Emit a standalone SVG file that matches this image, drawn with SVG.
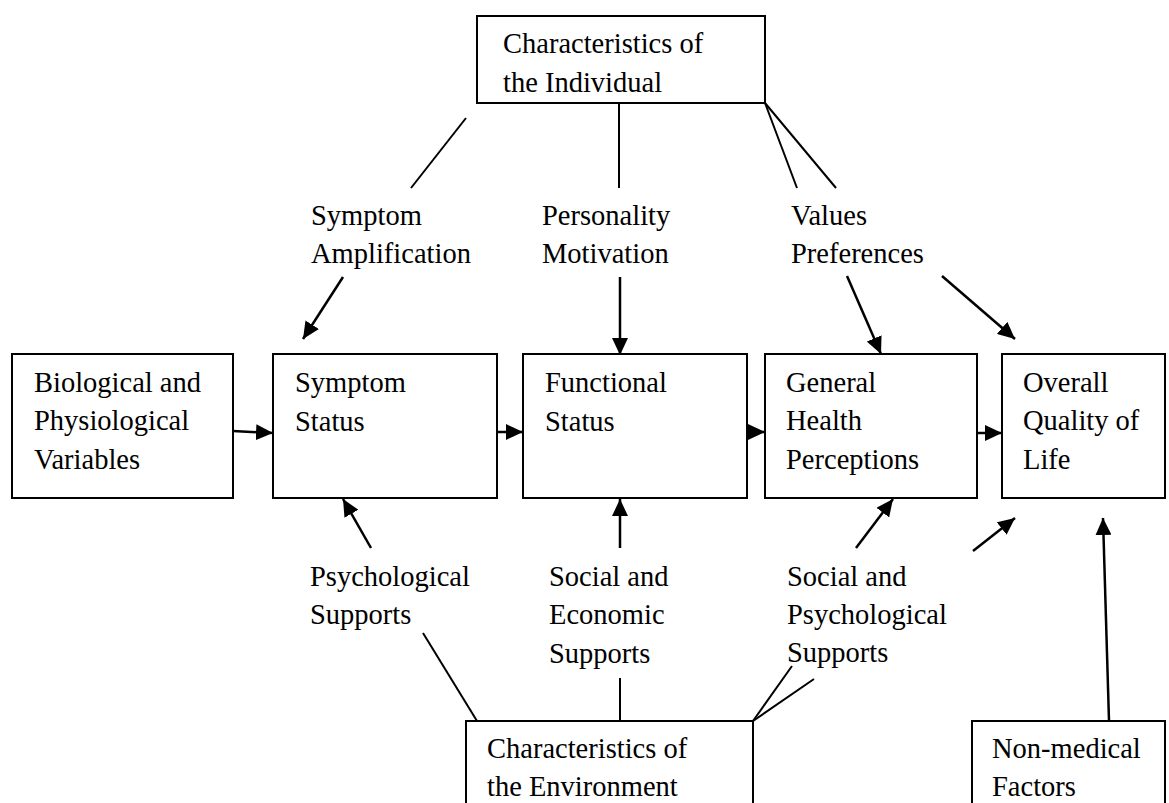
<svg xmlns="http://www.w3.org/2000/svg" width="1169" height="803" viewBox="0 0 1169 803">
<style>
  .box { fill: #ffffff; stroke: #000000; stroke-width: 2; }
  .t { font-family: "Liberation Serif", "Times New Roman", serif; font-size: 28.5px; fill: #000000; }
  .ln { stroke: #000000; stroke-width: 2; fill: none; }
  .ar { stroke: #000000; stroke-width: 2.5; fill: none; marker-end: url(#ah); }
</style>
<defs>
  <marker id="ah" markerUnits="userSpaceOnUse" markerWidth="18" markerHeight="16" viewBox="0 0 18 16" refX="17" refY="8" orient="auto">
    <path d="M0,0 L17,8 L0,16 Z" fill="#000000"/>
  </marker>
</defs>
<rect width="1169" height="803" fill="#ffffff"/>

<g id="node-individual">
  <rect class="box" x="477" y="16" width="288" height="87"/>
  <text class="t" x="503" y="53">Characteristics of</text>
  <text class="t" x="503" y="92">the Individual</text>
</g>

<g id="node-biological">
  <rect class="box" x="12" y="354" width="221" height="144"/>
  <text class="t" x="34" y="392">Biological and</text>
  <text class="t" x="34" y="430">Physiological</text>
  <text class="t" x="34" y="469">Variables</text>
</g>

<g id="node-symptom">
  <rect class="box" x="273" y="354" width="224" height="144"/>
  <text class="t" x="295" y="392">Symptom</text>
  <text class="t" x="295" y="431">Status</text>
</g>

<g id="node-functional">
  <rect class="box" x="523" y="354" width="224" height="144"/>
  <text class="t" x="545" y="392">Functional</text>
  <text class="t" x="545" y="431">Status</text>
</g>

<g id="node-general">
  <rect class="box" x="765" y="354" width="212" height="144"/>
  <text class="t" x="786" y="392">General</text>
  <text class="t" x="786" y="430">Health</text>
  <text class="t" x="786" y="469">Perceptions</text>
</g>

<g id="node-overall">
  <rect class="box" x="1002" y="354" width="163" height="144"/>
  <text class="t" x="1023" y="392">Overall</text>
  <text class="t" x="1023" y="430">Quality of</text>
  <text class="t" x="1023" y="469">Life</text>
</g>

<g id="node-environment">
  <rect class="box" x="466" y="721" width="287" height="100"/>
  <text class="t" x="487" y="758">Characteristics of</text>
  <text class="t" x="487" y="796">the Environment</text>
</g>

<g id="node-nonmedical">
  <rect class="box" x="972" y="721" width="193" height="100"/>
  <text class="t" x="992" y="758">Non-medical</text>
  <text class="t" x="992" y="796">Factors</text>
</g>

<g id="labels">
  <text class="t" x="311" y="225">Symptom</text>
  <text class="t" x="311" y="263">Amplification</text>
  <text class="t" x="542" y="225">Personality</text>
  <text class="t" x="542" y="263">Motivation</text>
  <text class="t" x="791" y="225">Values</text>
  <text class="t" x="791" y="263">Preferences</text>
  <text class="t" x="310" y="586">Psychological</text>
  <text class="t" x="310" y="624">Supports</text>
  <text class="t" x="549" y="586">Social and</text>
  <text class="t" x="549" y="624">Economic</text>
  <text class="t" x="549" y="663">Supports</text>
  <text class="t" x="787" y="586">Social and</text>
  <text class="t" x="787" y="624">Psychological</text>
  <text class="t" x="787" y="662">Supports</text>
</g>

<g id="connectors">
  <!-- lines from Characteristics of the Individual -->
  <line class="ln" x1="466" y1="118" x2="411" y2="188"/>
  <line class="ln" x1="619" y1="103" x2="619" y2="188"/>
  <line class="ln" x1="765" y1="103" x2="797" y2="188"/>
  <line class="ln" x1="765" y1="103" x2="836" y2="188"/>
  <!-- arrows from upper labels -->
  <line class="ar" x1="343" y1="277" x2="303" y2="339"/>
  <line class="ar" x1="620" y1="277" x2="620" y2="355"/>
  <line class="ar" x1="847" y1="276" x2="881" y2="354"/>
  <line class="ar" x1="942" y1="276" x2="1015" y2="339"/>
  <!-- main chain -->
  <line class="ar" x1="233" y1="431" x2="273" y2="433"/>
  <line class="ar" x1="497" y1="432" x2="523" y2="432"/>
  <line class="ar" x1="747" y1="432" x2="765" y2="432"/>
  <line class="ar" x1="977" y1="433" x2="1002" y2="433"/>
  <!-- arrows from lower labels -->
  <line class="ar" x1="371" y1="548" x2="343" y2="499"/>
  <line class="ar" x1="620" y1="548" x2="620" y2="499"/>
  <line class="ar" x1="856" y1="548" x2="893" y2="499"/>
  <line class="ar" x1="973" y1="551" x2="1015" y2="518"/>
  <line class="ar" x1="1109" y1="721" x2="1103" y2="518"/>
  <!-- lines from Characteristics of the Environment -->
  <line class="ln" x1="423" y1="633" x2="477" y2="721"/>
  <line class="ln" x1="620" y1="678" x2="620" y2="721"/>
  <line class="ln" x1="753" y1="721" x2="792" y2="666"/>
  <line class="ln" x1="753" y1="721" x2="814" y2="679"/>
</g>
</svg>
